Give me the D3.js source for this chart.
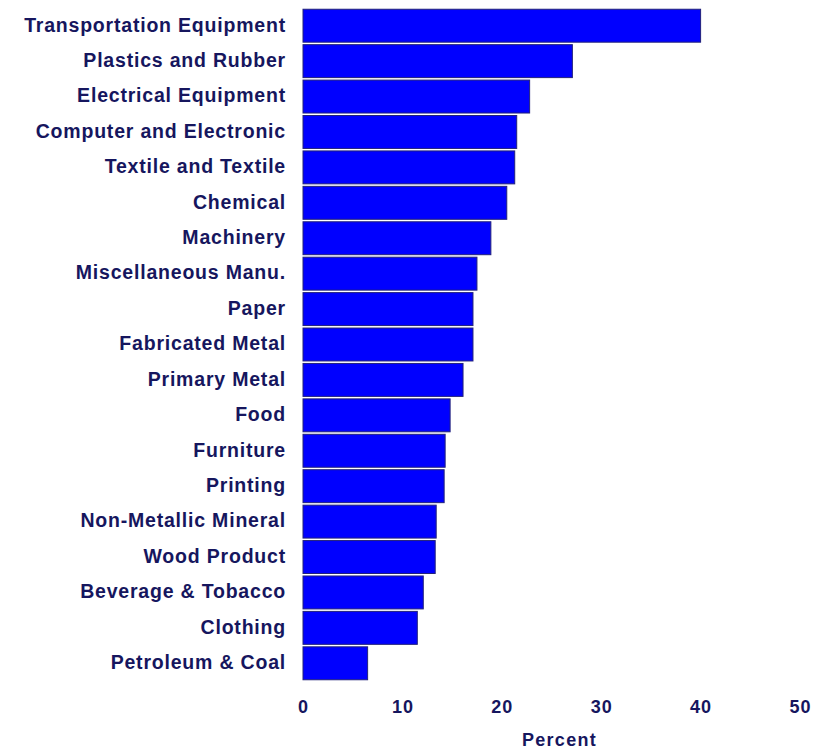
<!DOCTYPE html>
<html lang="en">
<head>
<meta charset="utf-8">
<title>Percent by industry</title>
<script src="https://d3js.org/d3.v7.min.js"></script>
<style>
  body {
    margin: 0;
    background: #fff;
    font-family: "Liberation Sans", Arial, sans-serif;
  }
</style>
</head>
<body>
<div id="vis"></div>
<script>
  // industries, top to bottom
  const industries = [
    "Transportation Equipment", "Plastics and Rubber", "Electrical Equipment",
    "Computer and Electronic", "Textile and Textile", "Chemical", "Machinery",
    "Miscellaneous Manu.", "Paper", "Fabricated Metal", "Primary Metal", "Food",
    "Furniture", "Printing", "Non-Metallic Mineral", "Wood Product",
    "Beverage & Tobacco", "Clothing", "Petroleum & Coal"
  ];
  // percent values
  const percents = [
    40.0, 27.1, 22.8, 21.5, 21.3, 20.5, 18.9, 17.5, 17.1, 17.1,
    16.1, 14.8, 14.3, 14.2, 13.4, 13.3, 12.1, 11.5, 6.5
  ];
  const xTicks = [0, 10, 20, 30, 40, 50];
  const xTitle = "Percent";

  const width = 823, height = 749;
  const textColour = "#16165e";

  const svg = d3.select("#vis").append("svg")
    .attr("width", width)
    .attr("height", height);

  const x = d3.scaleLinear().domain([0, 50]).range([303, 800]);
  const y = d3.scaleBand().domain(industries).range([8, 681])
    .paddingInner(0.07).paddingOuter(0.035);

  const data = industries.map((name, i) => ({ name, value: percents[i] }));

  // bars
  svg.selectAll(".bar")
    .data(data)
    .enter()
    .append("rect")
    .attr("class", "bar")
    .attr("x", x(0))
    .attr("y", d => y(d.name))
    .attr("width", d => x(d.value) - x(0))
    .attr("height", y.bandwidth())
    .attr("fill", "#0000ff")
    .attr("stroke", "#22227a")
    .attr("stroke-width", 1);

  // category labels, via a left axis with no lines
  const yAxis = svg.append("g")
    .attr("transform", `translate(${x(0) - 17},-1)`)
    .call(d3.axisLeft(y).tickSize(0).tickPadding(0));
  yAxis.select(".domain").remove();
  yAxis.selectAll("text")
    .attr("fill", textColour)
    .style("font-size", "19.5px")
    .style("font-weight", "bold")
    .style("letter-spacing", "0.8px")
    .style("font-family", "'Liberation Sans', Arial, sans-serif")
    .attr("dy", "0.35em");

  // x axis tick labels
  const xAxis = svg.append("g")
    .attr("transform", "translate(0,700)")
    .call(d3.axisBottom(x).tickValues(xTicks).tickSize(0).tickPadding(0));
  xAxis.select(".domain").remove();
  xAxis.selectAll("text")
    .attr("fill", textColour)
    .style("font-size", "18px")
    .style("font-weight", "bold")
    .style("letter-spacing", "1px")
    .style("font-family", "'Liberation Sans', Arial, sans-serif");

  // x title
  svg.append("text")
    .attr("x", (x(0) + x(50)) / 2 + 8)
    .attr("y", 746)
    .attr("text-anchor", "middle")
    .attr("fill", textColour)
    .style("font-size", "18px")
    .style("font-weight", "bold")
    .style("letter-spacing", "1.3px")
    .text(xTitle);
</script>
</body>
</html>
